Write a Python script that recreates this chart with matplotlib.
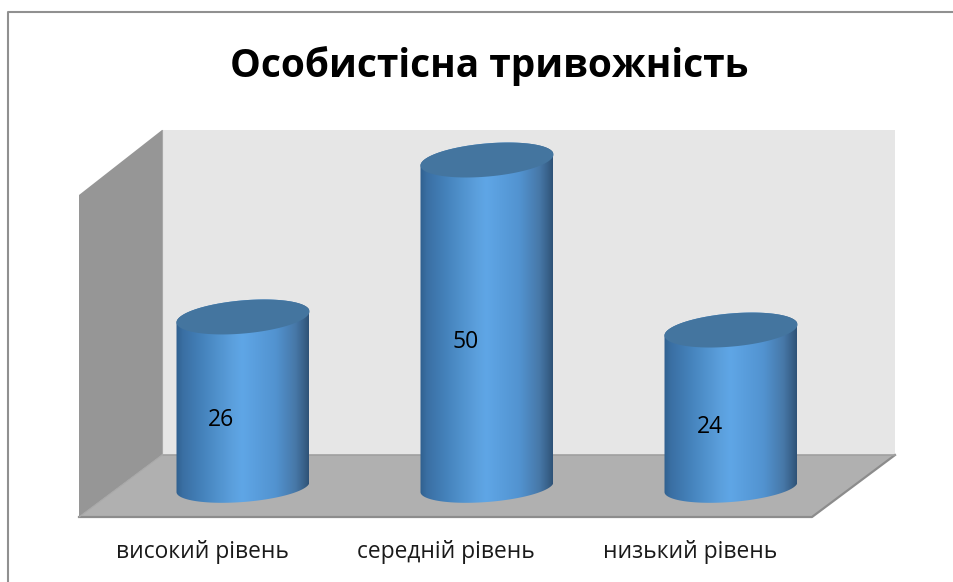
import numpy as np
import matplotlib
matplotlib.use('Agg')
import matplotlib.pyplot as plt
from matplotlib.colors import LinearSegmentedColormap
from matplotlib.patches import Polygon

categories = ['високий рівень', 'середній рівень', 'низький рівень']
values = [26, 50, 24]
title = 'Особистісна тривожність'

plt.rcParams['font.family'] = ['Open Sans', 'DejaVu Sans']

W, H = 954, 582
fig = plt.figure(figsize=(W / 100, H / 100), dpi=100)
ax = fig.add_axes([0, 0, 1, 1])
ax.set_xlim(0, W)
ax.set_ylim(H, 0)
ax.axis('off')

# scale of the chart, pixels per unit and layout of the 3d box
px_per_unit = 6.54
base_y = 487
bar_x = [243, 487, 731]
bar_a = 66.5

body_cmap = LinearSegmentedColormap.from_list('body', [
    (0.0, '#30608f'), (0.05, '#3a6fa3'), (0.2, '#4583bc'), (0.42, '#5b9fdc'),
    (0.5, '#5fa6e6'), (0.75, '#5293d0'), (0.9, '#4778a8'), (0.97, '#375f87'),
    (1.0, '#2e5277')])


def ellipse(cx, cy, b1, b2, n=200):
    t = np.linspace(0, 2 * np.pi, n)
    return cx + bar_a * np.cos(t), cy - b1 * np.cos(t) - b2 * np.sin(t), t


def poly(pts, color, z=1):
    ax.add_patch(Polygon(pts, closed=True, fc=color, ec='none', zorder=z))


# chart frame, only the top and left edges show in the picture
ax.plot([8, 8, W], [H, 12, 12], color='#909090', lw=1.5, zorder=0)

# back wall, floor, side wall
poly([(162, 130), (895, 130), (895, 455), (162, 455)], '#e6e6e6')
poly([(162, 455), (895, 455), (812, 517), (79, 517)], '#b0b0b0')
poly([(79, 195), (162, 130), (162, 455), (79, 517)], '#969696')
ax.plot([79, 812, 895], [517, 517, 455], color='#8c8c8c', lw=1.6, zorder=2)
ax.plot([162, 895], [455, 455], color='#a0a0a0', lw=1.2, zorder=2)
ax.plot([162, 162], [130, 455], color='#a8a8a8', lw=0.8, zorder=2)
ax.plot([162, 79], [455, 517], color='#a8a8a8', lw=0.8, zorder=2)

# cylinders
for cx, v in zip(bar_x, values):
    top_y = base_y - v * px_per_unit
    bx, by, t = ellipse(cx, base_y, 5, 15)
    tx, ty, _ = ellipse(cx, top_y, 5.5, 16.6)
    lower = np.sin(t) <= 0
    upper = np.sin(t) >= 0
    order = np.argsort(bx[lower])
    order2 = np.argsort(-tx[upper])
    outline = np.vstack([np.column_stack([bx[lower][order], by[lower][order]]),
                         np.column_stack([tx[upper][order2], ty[upper][order2]])])
    body = Polygon(outline, closed=True, fc='none', ec='none')
    ax.add_patch(body)
    im = ax.imshow(np.linspace(0, 1, 256).reshape(1, -1), cmap=body_cmap,
                   extent=(cx - bar_a, cx + bar_a, base_y + 20, top_y - 20),
                   aspect='auto', zorder=3)
    im.set_clip_path(body)
    poly(np.column_stack([tx, ty]), '#44759f', 4)
    ax.text(cx - 21.5, base_y - v * px_per_unit * 0.5 + 18.5, str(v), fontsize=16.5,
            ha='center', va='center', color='black', zorder=5)

# category labels
for cx, lab in zip(bar_x, categories):
    ax.text(cx - 41, 552, lab, fontsize=16.4, ha='center', va='center', color='#1a1a1a', zorder=5)

ax.text(489, 66, title, fontsize=28, fontweight='bold', ha='center', va='center', color='black', zorder=5)

ax.set_xlim(0, W)
ax.set_ylim(H, 0)
fig.savefig('out.png', dpi=100)
